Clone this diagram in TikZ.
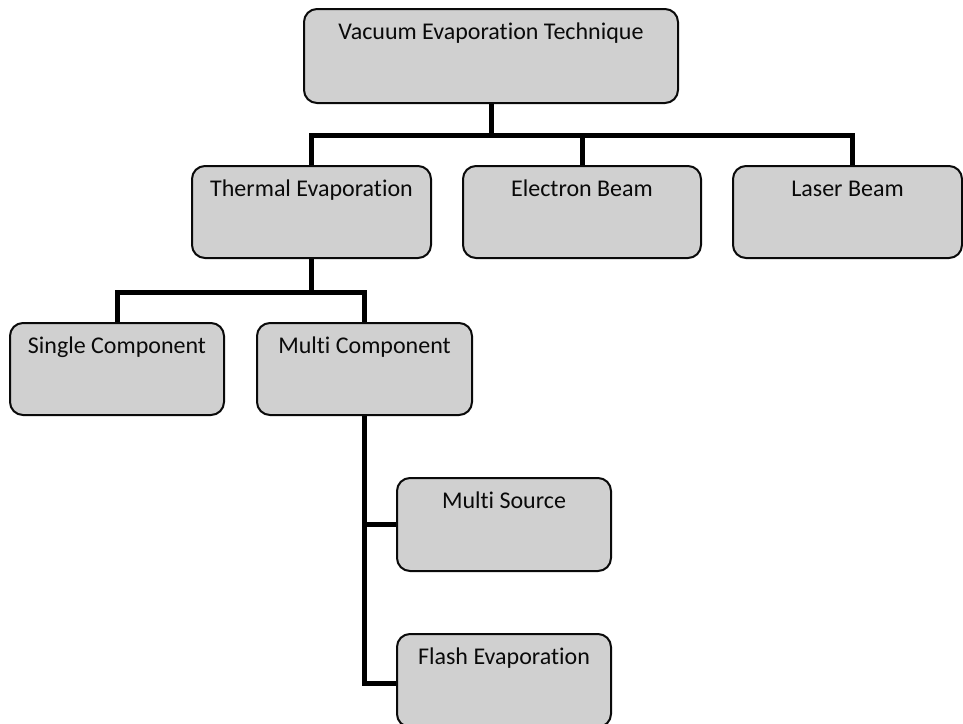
\documentclass[tikz,border=0pt]{standalone}
\usepackage{fontspec}
\setmainfont[Ligatures={NoCommon}]{Carlito}
\usetikzlibrary{backgrounds}
\definecolor{boxfill}{RGB}{208,208,208}
\definecolor{inkline}{RGB}{10,10,10}
\tikzset{
  catbox/.style={draw=inkline, line width=2pt, fill=boxfill, rounded corners=13pt,
                 rectangle, inner sep=0pt},
  cattext/.style={anchor=base, font=\fontsize{24}{28}\selectfont, text=inkline, inner sep=0pt},
  link/.style={draw=black, line width=5pt}
}
\begin{document}
\begin{tikzpicture}[x=1pt, y=-1pt]
  \clip (0,0) rectangle (963,723);

  % boxes
  \node[catbox, minimum width=374pt, minimum height=94pt] (vet) at (491,56) {};
  \node[catbox, minimum width=239pt, minimum height=92pt] (te) at (311.5,212) {};
  \node[catbox, minimum width=238pt, minimum height=92pt] (eb) at (582,212) {};
  \node[catbox, minimum width=229pt, minimum height=92pt] (lb) at (847.5,212) {};
  \node[catbox, minimum width=214pt, minimum height=92pt] (sc) at (117,369) {};
  \node[catbox, minimum width=215pt, minimum height=92pt] (mc) at (364.5,369) {};
  \node[catbox, minimum width=214pt, minimum height=93pt] (ms) at (504,524.5) {};
  \node[catbox, minimum width=214pt, minimum height=93pt] (fe) at (504,680.5) {};

  % labels, set near the top edge of each box
  \node[cattext] (tvet) at ([yshift=-31pt]vet.north) {Vacuum Evaporation Technique};
  \node[cattext] (tte) at ([yshift=-31pt]te.north) {Thermal Evaporation};
  \node[cattext] (teb) at ([yshift=-31pt]eb.north) {Electron Beam};
  \node[cattext] (tlb) at ([yshift=-31pt]lb.north) {Laser Beam};
  \node[cattext] (tsc) at ([yshift=-31pt]sc.north) {Single Component};
  \node[cattext] (tmc) at ([yshift=-31pt]mc.north) {Multi Component};
  \node[cattext] (tms) at ([yshift=-31pt]ms.north) {Multi Source};
  \node[cattext] (tfe) at ([yshift=-31pt]fe.north) {Flash Evaporation};

  % tree lines, behind the boxes
  \begin{pgfonlayer}{background}
    \fill[white] (0,0) rectangle (963,723);
    \coordinate (busA) at (491,135);
    \coordinate (busB) at (311,292);
    \coordinate (spine) at (364,683);
    \draw[link] (vet.south) -- (busA);
    \draw[link] ([xshift=-0.5pt]te.north) |- (busA) -| ([xshift=4.5pt]lb.north);
    \draw[link] (busA) -| (eb.north);
    \draw[link] ([xshift=-0.5pt]te.south) -- (busB);
    \draw[link] (sc.north) |- (busB) -| ([xshift=-0.5pt]mc.north);
    \draw[link] ([xshift=-0.5pt]mc.south) -- (spine) -- (spine -| fe.west);
    \draw[link] (spine |- ms.west) -- (ms.west);
  \end{pgfonlayer}
\end{tikzpicture}
\end{document}
